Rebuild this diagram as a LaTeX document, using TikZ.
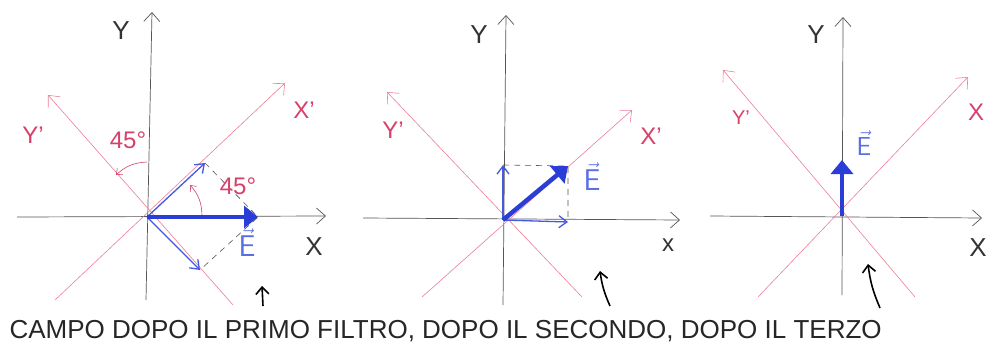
\documentclass[tikz,border=0pt]{standalone}
\usepackage{fontspec}
\setmainfont{Liberation Sans}
\usetikzlibrary{arrows.meta}
\definecolor{axgray}{HTML}{555555}
\definecolor{pinkline}{HTML}{EE7F98}
\definecolor{pinktext}{HTML}{D8406A}
\definecolor{bluevec}{HTML}{2A3DD6}
\definecolor{bluethin}{HTML}{4657E0}
\definecolor{bluetext}{HTML}{5A6FE6}
\tikzset{
  axis/.style={draw=axgray, line width=0.7pt, -{Straight Barb[length=9pt,width=16pt,line width=0.7pt]}},
  raxis/.style={draw=pinkline, line width=0.6pt, -{Straight Barb[length=9pt,width=16pt,line width=0.6pt]}},
  thinvec/.style={draw=bluethin, line width=1.3pt, -{Straight Barb[length=8pt,width=12pt,line width=1.3pt]}},
  thickvec/.style={draw=bluevec, line width=4.5pt, -{Triangle[length=14pt,width=22pt]}},
  projline/.style={draw=axgray, line width=0.6pt, dash pattern=on 6pt off 5pt},
  angarr/.style={draw=pinktext, line width=0.6pt, -{Straight Barb[length=5pt,width=8pt,line width=0.6pt]}},
  handarr/.style={draw=black, line width=1.6pt, -{Straight Barb[length=7pt,width=13pt,line width=1.6pt]}},
  blab/.style={text=black!80, font=\fontsize{26}{26}\selectfont},
  rlab/.style={text=pinktext, font=\fontsize{24}{24}\selectfont},
  elab/.style={text=bluetext, font=\fontsize{30}{30}\selectfont},
}
\begin{document}
\begin{tikzpicture}[x=1pt,y=-1pt]
\useasboundingbox[fill=white] (0,0) rectangle (988,356);
% ---------------- Panel 1 ----------------
\coordinate (O1) at (147,217);
\coordinate (x1a) at (17,217);   \coordinate (x1b) at (326,216);
\coordinate (y1a) at (146,300);  \coordinate (y1b) at (152,12);
\coordinate (xp1a) at (55,300);  \coordinate (xp1b) at (285,83);
\coordinate (yp1a) at (233,305); \coordinate (yp1b) at (48,95);
\coordinate (c1) at (205,163); \coordinate (d1) at (200,270); \coordinate (e1) at (258,217);
\draw[axis] (x1a) -- (x1b);
\draw[axis] (y1a) -- (y1b);
\draw[raxis] (xp1a) -- (xp1b);
\draw[raxis] (yp1a) -- (yp1b);
\draw[projline] (c1) -- (e1) -- (d1);
\draw[thinvec] (O1) -- (c1);
\draw[thinvec] (O1) -- (d1);
\draw[thickvec] (O1) -- (e1);
\coordinate (a1s) at (147,162); \coordinate (a1e) at (116,175);
\draw[angarr] (a1s) to[bend right=20] (a1e);
\coordinate (a2s) at (202,215); \coordinate (a2e) at (190,185);
\draw[angarr] (a2s) to[bend right=20] (a2e);
\node[blab] (Y1) at (121,31) {Y};
\node[blab] (X1) at (314,247) {X};
\node[rlab] (Xp1) at (304,110) {X'};
\node[rlab] (Yp1) at (33,135) {Y'};
\node[rlab] (an1) at (128,140) {45°};
\node[rlab] (an2) at (238,186) {45°};
\node[elab] (E1) at (247,243) {$\vec{\mathsf{E}}$};
\coordinate (h1a) at (263,306); \coordinate (h1b) at (262,286);
\draw[handarr] (h1a) -- (h1b);
% ---------------- Panel 2 ----------------
\coordinate (O2) at (503,220);
\coordinate (x2a) at (363,218);  \coordinate (x2b) at (680,220);
\coordinate (y2a) at (503,305);  \coordinate (y2b) at (506,15);
\coordinate (xp2a) at (422,297); \coordinate (xp2b) at (632,110);
\coordinate (yp2a) at (582,297); \coordinate (yp2b) at (387,92);
\coordinate (c2) at (503,165); \coordinate (d2) at (568,222); \coordinate (e2) at (568,166); \coordinate (f2) at (568,218);
\draw[axis] (x2a) -- (x2b);
\draw[axis] (y2a) -- (y2b);
\draw[raxis] (xp2a) -- (xp2b);
\draw[raxis] (yp2a) -- (yp2b);
\draw[projline] (c2) -- (e2) -- (f2);
\draw[thinvec] (O2) -- (c2);
\draw[thinvec] (O2) -- (d2);
\draw[thickvec] (O2) -- (e2);
\node[blab] (Y2) at (479,35) {Y};
\node[blab, font=\fontsize{24}{24}\selectfont] (X2) at (668,245) {x};
\node[rlab] (Xp2) at (651,136) {X'};
\node[rlab] (Yp2) at (393,130) {Y'};
\node[elab] (E2) at (592,177) {$\vec{\mathsf{E}}$};
\coordinate (h2a) at (610,306); \coordinate (h2b) at (600,271);
\draw[handarr] (h2a) to[bend left=8] (h2b);
% ---------------- Panel 3 ----------------
\coordinate (O3) at (842,216);
\coordinate (x3a) at (710,216);  \coordinate (x3b) at (982,218);
\coordinate (y3a) at (842,295);  \coordinate (y3b) at (843,17);
\coordinate (xp3a) at (758,297); \coordinate (xp3b) at (968,77);
\coordinate (yp3a) at (915,297); \coordinate (yp3b) at (723,70);
\coordinate (e3) at (842,160);
\draw[axis] (x3a) -- (x3b);
\draw[axis] (y3a) -- (y3b);
\draw[raxis] (xp3a) -- (xp3b);
\draw[raxis] (yp3a) -- (yp3b);
\draw[thickvec] (O3) -- (e3);
\node[blab] (Y3) at (816,35) {Y};
\node[blab] (X3) at (978,248) {X};
\node[rlab] (Xp3) at (976,112) {X};
\node[rlab, font=\fontsize{20}{20}\selectfont] (Yp3) at (741,118) {Y'};
\node[elab, font=\fontsize{26}{26}\selectfont] (E3) at (864,143) {$\vec{\mathsf{E}}$};
\coordinate (h3a) at (880,308); \coordinate (h3b) at (868,264);
\draw[handarr] (h3a) to[bend left=8] (h3b);
% ---------------- Caption ----------------
\node[anchor=west, text=black!85, font=\fontsize{26}{26}\selectfont] (cap) at (6,331) {CAMPO DOPO IL PRIMO FILTRO, DOPO IL SECONDO, DOPO IL TERZO};
\end{tikzpicture}
\end{document}
